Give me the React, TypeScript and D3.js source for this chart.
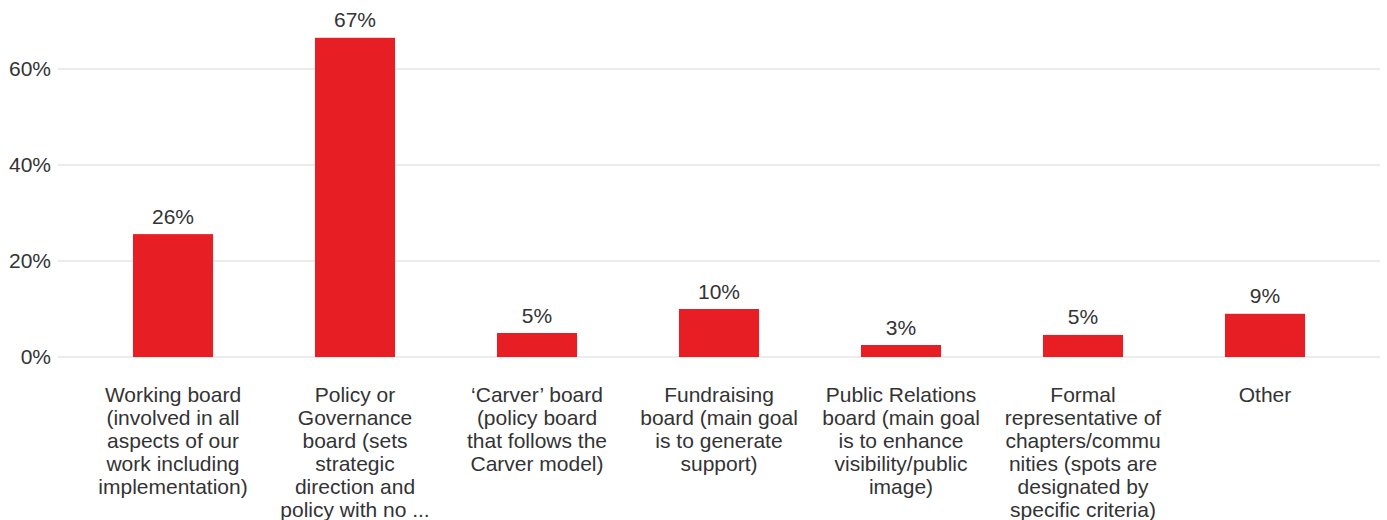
import React from "react";
import * as d3 from "d3";

const categories = [
  "Working board",
  "Policy or Governance board",
  "'Carver' board",
  "Fundraising board",
  "Public Relations board",
  "Formal representative",
  "Other",
];
const categoryLines = [
  ["Working board", "(involved in all", "aspects of our", "work including", "implementation)"],
  ["Policy or", "Governance", "board (sets", "strategic", "direction and", "policy with no ..."],
  ["\u2018Carver\u2019 board", "(policy board", "that follows the", "Carver model)"],
  ["Fundraising", "board (main goal", "is to generate", "support)"],
  ["Public Relations", "board (main goal", "is to enhance", "visibility/public", "image)"],
  ["Formal", "representative of", "chapters/commu", "nities (spots are", "designated by", "specific criteria)"],
  ["Other"],
];
const values = [25.6, 66.5, 5.0, 10.0, 2.5, 4.6, 9.0];
const valueLabels = ["26%", "67%", "5%", "10%", "3%", "5%", "9%"];
const yTicks = [0, 20, 40, 60];

const W = 1387;
const H = 520;
const FONT = "'Liberation Sans', Arial, sans-serif";
const TEXT = "#333333";
const BAR = "#e81e25";

export default function App() {
  const x = d3
    .scaleBand<string>()
    .domain(categories)
    .range([82, 1356])
    .paddingInner(0.56)
    .paddingOuter(0.28);
  const y = d3.scaleLinear().domain([0, 70]).range([357, 21]);

  return (
    <svg
      width={W}
      height={H}
      style={{ position: "absolute", left: 0, top: 0, display: "block" }}
      fontFamily={FONT}
    >
      <rect x={0} y={0} width={W} height={H} fill="#ffffff" />
      {yTicks.map((t) => (
        <g key={t}>
          <line x1={58} x2={1380} y1={y(t)} y2={y(t)} stroke="#e6e6e6" strokeWidth={1.6} />
          <text
            x={51}
            y={y(t)}
            dy="0.35em"
            textAnchor="end"
            fontSize={21}
            fill={TEXT}
          >
            {t}%
          </text>
        </g>
      ))}
      {categories.map((c, i) => {
        const bx = x(c) as number;
        const bw = x.bandwidth();
        const cx = bx + bw / 2;
        return (
          <g key={c}>
            <rect x={bx} y={y(values[i])} width={bw} height={y(0) - y(values[i])} fill={BAR} />
            <text
              x={cx}
              y={y(values[i]) - 10.5}
              textAnchor="middle"
              fontSize={21}
              fill={TEXT}
            >
              {valueLabels[i]}
            </text>
            <text x={cx} y={401.5} textAnchor="middle" fontSize={21} fill={TEXT}>
              {categoryLines[i].map((ln, j) => (
                <tspan key={j} x={cx} dy={j === 0 ? 0 : 23}>
                  {ln}
                </tspan>
              ))}
            </text>
          </g>
        );
      })}
    </svg>
  );
}
